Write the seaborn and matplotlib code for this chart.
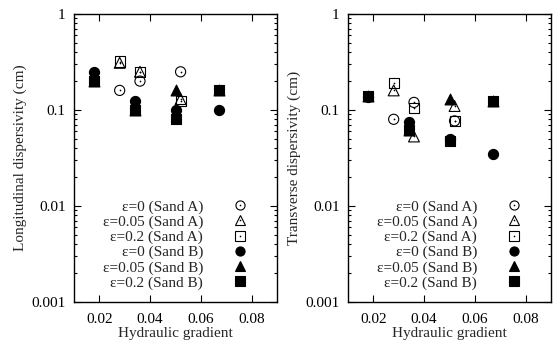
import matplotlib
matplotlib.use("Agg")
import matplotlib.pyplot as plt
import seaborn as sns
import pandas as pd
from matplotlib.lines import Line2D

sns.set_theme(style="ticks")
plt.rcParams['font.family'] = ['Liberation Serif', 'DejaVu Serif']
plt.rcParams['mathtext.fontset'] = 'stix'

# ---- data ----
xA = [0.028, 0.036, 0.052]
xB = [0.018, 0.034, 0.050, 0.067]

long_A_e0 = [0.16, 0.20, 0.25]
long_A_e005 = [0.31, 0.25, 0.13]
long_A_e02 = [0.32, 0.25, 0.125]
long_B_e0 = [0.25, 0.125, 0.10, 0.10]
long_B_e005 = [0.20, 0.10, 0.16, 0.16]
long_B_e02 = [0.20, 0.10, 0.08, 0.16]

tran_A_e0 = [0.08, 0.12, 0.077]
tran_A_e005 = [0.16, 0.053, 0.11]
tran_A_e02 = [0.19, 0.105, 0.077]
tran_B_e0 = [0.135, 0.075, 0.05, 0.035]
tran_B_e005 = [0.14, 0.062, 0.13, 0.125]
tran_B_e02 = [0.14, 0.062, 0.048, 0.125]

labels = ["ε=0 (Sand A)", "ε=0.05 (Sand A)", "ε=0.2 (Sand A)",
          "ε=0 (Sand B)", "ε=0.05 (Sand B)", "ε=0.2 (Sand B)"]
xticks = [0.02, 0.04, 0.06, 0.08]
xticklabels = ["0.02", "0.04", "0.06", "0.08"]
yticks = [0.001, 0.01, 0.1, 1]
yticklabels = ["0.001", "0.01", "0.1", "1"]

markers = ["o", "^", "s", "o", "^", "s"]
filled = [False, False, False, True, True, True]

long_series = [long_A_e0, long_A_e005, long_A_e02, long_B_e0, long_B_e005, long_B_e02]
tran_series = [tran_A_e0, tran_A_e005, tran_A_e02, tran_B_e0, tran_B_e005, tran_B_e02]
xs = [xA, xA, xA, xB, xB, xB]

fs = 11
fig = plt.figure(figsize=(5.53, 3.45), dpi=100)
ax1 = fig.add_axes([74/553, 1-302/345, (277-74)/553, (302-14)/345])
ax2 = fig.add_axes([348/553, 1-302/345, (551-348)/553, (302-14)/345])

ms = 7.3
draw_order = [3, 4, 5, 0, 1, 2]
for ax, series, ylab in [(ax1, long_series, "Longitudinal dispersivity (cm)"),
                         (ax2, tran_series, "Transverse dispersivity (cm)")]:
    for i in draw_order:
        df = pd.DataFrame({"x": xs[i], "y": series[i]})
        fc = "black" if filled[i] else "none"
        sns.scatterplot(data=df, x="x", y="y", ax=ax, marker=markers[i],
                        s=ms**2 * (1.15 if markers[i] == "^" else 1.0),
                        facecolor=fc, edgecolor="black", linewidth=0.8,
                        zorder=3, legend=False)
        if not filled[i]:
            sns.scatterplot(data=df, x="x", y="y", ax=ax, marker="o", s=1.5,
                            color="black", linewidth=0, zorder=4, legend=False)
    ax.set_yscale("log")
    ax.set_xlim(0.01, 0.09)
    ax.set_ylim(0.001, 1)
    ax.set_xticks(xticks)
    ax.set_xticklabels(xticklabels)
    ax.set_yticks(yticks)
    ax.set_yticklabels(yticklabels)
    ax.tick_params(which="both", direction="in", top=True, right=True,
                   labelsize=fs, width=0.8, colors="black")
    ax.tick_params(axis="x", pad=8)
    ax.tick_params(axis="y", pad=6)
    ax.tick_params(which="major", length=5)
    ax.tick_params(which="minor", length=2.5)
    ax.xaxis.set_minor_locator(matplotlib.ticker.NullLocator())
    for sp in ax.spines.values():
        sp.set_linewidth(1.0)
        sp.set_color("black")
    ax.set_xlabel("Hydraulic gradient", fontsize=fs, labelpad=1)
    ax.set_ylabel(ylab, fontsize=fs, labelpad=3)

    handles = []
    for i in range(6):
        h = Line2D([], [], linestyle="none", marker=markers[i],
                   markersize=ms * 0.9,
                   markerfacecolor="black" if filled[i] else "none",
                   markeredgecolor="black", markeredgewidth=0.8)
        if not filled[i]:
            d = Line2D([], [], linestyle="none", marker="o", markersize=1.2,
                       markerfacecolor="black", markeredgewidth=0)
            handles.append((h, d))
        else:
            handles.append(h)
    ax.legend(handles, labels, loc="lower right", markerfirst=False,
              frameon=False, fontsize=fs, handlelength=1.0, handletextpad=1.9,
              labelspacing=0.09, borderaxespad=0.4, bbox_to_anchor=(0.915, 0.0))

fig.savefig("out.png", dpi=100)
